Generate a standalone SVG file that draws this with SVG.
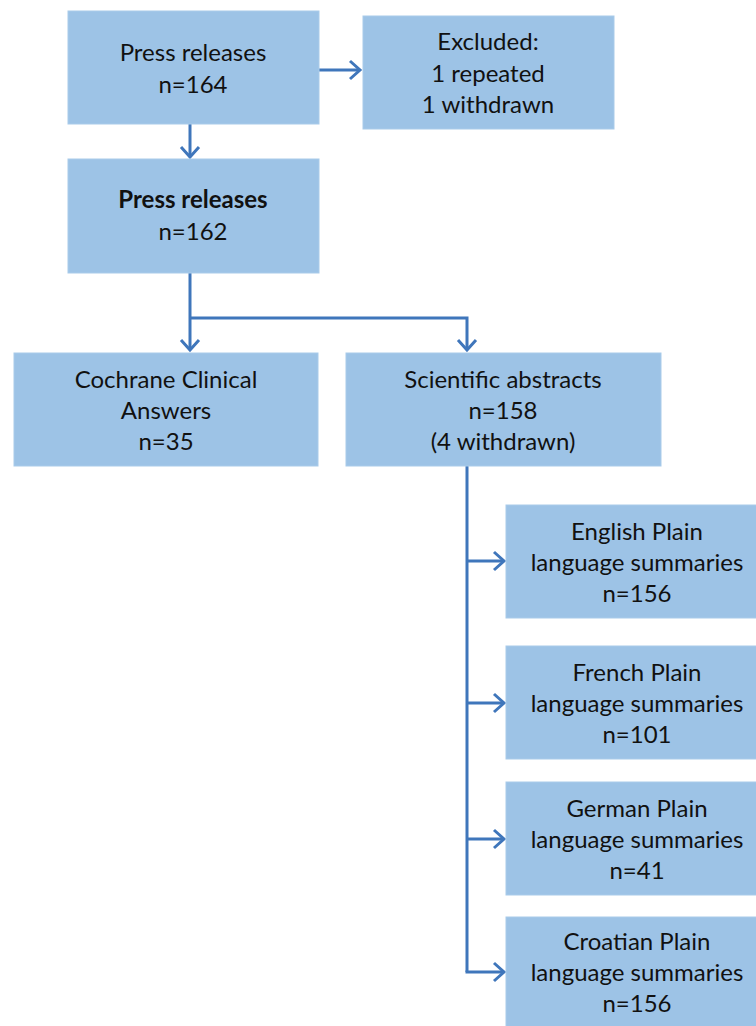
<svg xmlns="http://www.w3.org/2000/svg" width="756" height="1026" viewBox="0 0 756 1026">
<style>
.box{fill:#9DC3E6;stroke:#A9CBEA;stroke-width:1}
.t{font-family:Lato,"Open Sans",sans-serif;font-size:24px;fill:#111;text-anchor:middle}
.b{font-weight:bold}
.c{fill:none;stroke:#3F76BB;stroke-width:3}
</style>
<defs>
<marker id="ah" markerUnits="userSpaceOnUse" markerWidth="22" markerHeight="22" refX="13" refY="11" orient="auto" viewBox="0 0 22 22">
<path d="M3,2 L13,11 L3,20" fill="none" stroke="#3F76BB" stroke-width="3"/>
</marker>
</defs>
<g id="connectors">
<line class="c" x1="319" y1="70" x2="360" y2="70" marker-end="url(#ah)"/>
<line class="c" x1="190" y1="124" x2="190" y2="157" marker-end="url(#ah)"/>
<polyline class="c" points="190,273 190,318 190,350" marker-end="url(#ah)"/>
<polyline class="c" points="190,318 467,318 467,350" marker-end="url(#ah)"/>
<line class="c" x1="467" y1="466" x2="467" y2="972"/>
<line class="c" x1="467" y1="561" x2="504" y2="561" marker-end="url(#ah)"/>
<line class="c" x1="467" y1="703" x2="504" y2="703" marker-end="url(#ah)"/>
<line class="c" x1="467" y1="839" x2="504" y2="839" marker-end="url(#ah)"/>
<line class="c" x1="465.5" y1="972" x2="504" y2="972" marker-end="url(#ah)"/>
</g>
<g id="press164">
<rect class="box" x="68" y="11" width="251" height="113"/>
<text class="t" x="193" y="61">Press releases</text>
<text class="t" x="193" y="93">n=164</text>
</g>
<g id="excluded">
<rect class="box" x="363" y="16" width="251" height="113"/>
<text class="t" x="488" y="50">Excluded:</text>
<text class="t" x="488" y="82">1 repeated</text>
<text class="t" x="488" y="113">1 withdrawn</text>
</g>
<g id="press162">
<rect class="box" x="68" y="159" width="251" height="114"/>
<text class="t b" x="193" y="208">Press releases</text>
<text class="t" x="193" y="240">n=162</text>
</g>
<g id="cochrane">
<rect class="box" x="14" y="353" width="304" height="113"/>
<text class="t" x="166" y="388">Cochrane Clinical</text>
<text class="t" x="166" y="419">Answers</text>
<text class="t" x="166" y="450">n=35</text>
</g>
<g id="scientific">
<rect class="box" x="346" y="353" width="315" height="113"/>
<text class="t" x="503" y="388">Scientific abstracts</text>
<text class="t" x="503" y="419">n=158</text>
<text class="t" x="503" y="450">(4 withdrawn)</text>
</g>
<g id="english">
<rect class="box" x="506" y="505" width="260" height="113"/>
<text class="t" x="637" y="540">English Plain</text>
<text class="t" x="637" y="571">language summaries</text>
<text class="t" x="637" y="602">n=156</text>
</g>
<g id="french">
<rect class="box" x="506" y="646" width="260" height="113"/>
<text class="t" x="637" y="681">French Plain</text>
<text class="t" x="637" y="712">language summaries</text>
<text class="t" x="637" y="743">n=101</text>
</g>
<g id="german">
<rect class="box" x="506" y="782" width="260" height="113"/>
<text class="t" x="637" y="817">German Plain</text>
<text class="t" x="637" y="848">language summaries</text>
<text class="t" x="637" y="879">n=41</text>
</g>
<g id="croatian">
<rect class="box" x="506" y="917" width="260" height="120"/>
<text class="t" x="637" y="950">Croatian Plain</text>
<text class="t" x="637" y="981">language summaries</text>
<text class="t" x="637" y="1012">n=156</text>
</g>
</svg>
